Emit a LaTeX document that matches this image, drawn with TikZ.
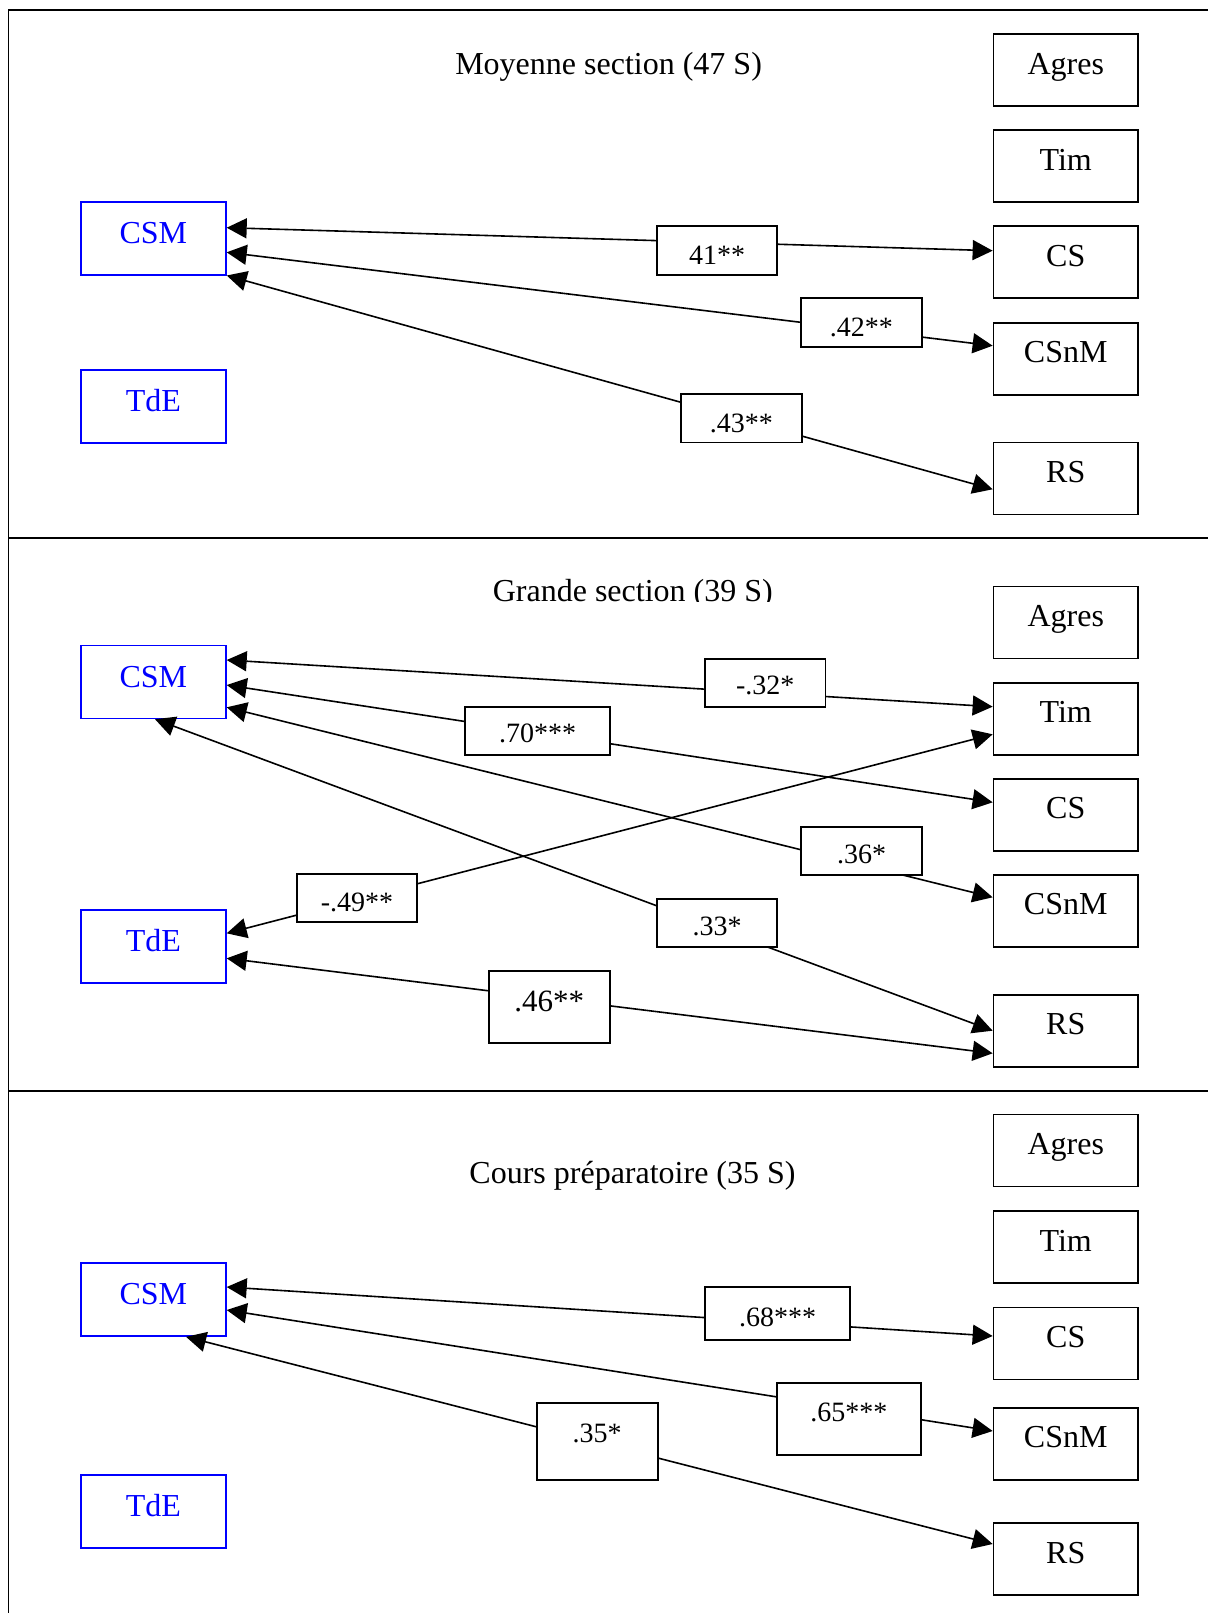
\documentclass[tikz,border=0pt]{standalone}
\usepackage{fontspec}
\setmainfont{Liberation Serif}
\usetikzlibrary{arrows.meta}

% one unit = one pixel of the layout grid, y running downwards
\tikzset{
  layout/.style={x=0.5pt, y=-0.5pt},
  measure/.style={draw=black, line width=0.85pt, rectangle, inner sep=0pt,
    minimum width=72.25pt, minimum height=36pt, text height=4pt, text depth=0pt,
    font=\fontsize{16pt}{19pt}\selectfont},
  latent/.style={draw=blue, text=blue, line width=0.8pt, rectangle, inner sep=0pt,
    minimum width=72.5pt, minimum height=36.5pt, text height=5.1pt, text depth=0pt,
    font=\fontsize{16pt}{19pt}\selectfont},
  % size {width}{height}{baseline below top}, all in layout pixels
  coef/.code n args={3}{%
    \pgfmathsetmacro\cfw{#1*0.5}%
    \pgfmathsetmacro\cfh{#2*0.5}%
    \pgfmathsetmacro\cft{max(0,(2*#3-#2)*0.5)}%
    \edef\cfset{\noexpand\tikzset{minimum width=\cfw pt, minimum height=\cfh pt, text height=\cft pt}}%
    \cfset},
  cbox/.style={draw=black, fill=white, line width=0.85pt, rectangle, inner sep=0pt,
    text depth=0pt, font=\fontsize{14pt}{17pt}\selectfont},
  link/.style={>={Triangle[length=10pt,width=10pt]}, <->, line width=0.8pt},
  title/.style={anchor=base, inner sep=0pt, font=\fontsize{16pt}{19pt}\selectfont},
  frame/.style={line width=0.85pt},
}

\begin{document}
\begin{tikzpicture}[layout]
\useasboundingbox (0,0) rectangle (1208,1613);

% outer frame and the two dividers
\draw[frame] (1215,10) -- (8.5,10) -- (8.5,1620);
\draw[frame] (8.5,538) -- (1215,538);
\draw[frame] (8.5,1091) -- (1215,1091);

% ---------- Moyenne section ----------
\node[title] (tA) at (608.6,74) {Moyenne section (47 S)};
\node[latent] (csmA) at (153.4,238.2) {CSM};
\node[latent] (tdeA) at (153.4,406.5) {TdE};
\node[measure] (agresA) at (1065.75,70) {Agres};
\node[measure] (timA) at (1065.75,166) {Tim};
\node[measure] (csA) at (1065.75,262) {CS};
\node[measure] (csnmA) at (1065.75,358.75) {CSnM};
\node[measure] (rsA) at (1065.75,478.5) {RS};

\draw[link] (csmA.east |- 0,227.7) -- (csA.west |- 0,250.7);
\draw[link] (csmA.east |- 0,252.3) -- (csnmA.west |- 0,345.7);
\draw[link] (csmA.south east) -- (rsA.west |- 0,489.3);

\node[cbox, coef={120.6}{48.7}{38}] (kA1) at (717,250.35) {41**};
\node[cbox, coef={120.7}{48.4}{38.4}] (kA2) at (861.35,322.5) {.42**};
\node[cbox, coef={121.3}{48.3}{38.5}] (kA3) at (741.3,418.2) {.43**};

% ---------- Grande section ----------
\begin{scope}
  \clip (0,545) rectangle (1208,601.5);
  \node[title] (tB) at (632.8,601) {Grande section (39 S)};
\end{scope}
\node[latent] (csmB) at (153.4,681.9) {CSM};
\node[latent] (tdeB) at (153.4,946.4) {TdE};
\node[measure] (agresB) at (1065.75,622.5) {Agres};
\node[measure] (timB) at (1065.75,718.8) {Tim};
\node[measure] (csB) at (1065.75,814.8) {CS};
\node[measure] (csnmB) at (1065.75,910.8) {CSnM};
\node[measure] (rsB) at (1065.75,1030.9) {RS};

\draw[link] (csmB.east |- 0,660) -- (timB.west |- 0,706.7);
\draw[link] (csmB.east |- 0,685) -- (csB.west |- 0,802.3);
\draw[link] (csmB.east |- 0,707.3) -- (csnmB.west |- 0,897.3);
\draw[link] (csmB.south -| 155,0) -- (rsB.west |- 0,1030.7);
\draw[link] (tdeB.east |- 0,933.3) -- (timB.west |- 0,734.3);
\draw[link] (tdeB.east |- 0,958.3) -- (rsB.west |- 0,1053.3);

\node[cbox, coef={120.5}{48}{36.2}] (kB1) at (765.25,682.75) {-.32*};
\node[cbox, coef={144.4}{48}{36}] (kB2) at (537.5,730.7) {.70***};
\node[cbox, coef={120.4}{48}{36.6}] (kB3) at (861.5,850.7) {.36*};
\node[cbox, coef={120.6}{48}{36.7}] (kB4) at (357,898.3) {-.49**};
\node[cbox, coef={120}{48}{36.8}] (kB5) at (717,922.7) {.33*};
\node[cbox, coef={120.7}{72}{40.3}, font=\fontsize{15.5pt}{18pt}\selectfont] (kB6) at (549.35,1006.7) {.46**};

% ---------- Cours préparatoire ----------
\node[title] (tC) at (632.5,1183.3) {Cours préparatoire (35 S)};
\node[latent] (csmC) at (153.4,1299.5) {CSM};
\node[latent] (tdeC) at (153.4,1511.2) {TdE};
\node[measure] (agresC) at (1065.75,1150.5) {Agres};
\node[measure] (timC) at (1065.75,1247) {Tim};
\node[measure] (csC) at (1065.75,1343.4) {CS};
\node[measure] (csnmC) at (1065.75,1443.8) {CSnM};
\node[measure] (rsC) at (1065.75,1559.3) {RS};

\draw[link] (csmC.east |- 0,1287) -- (csC.west |- 0,1336);
\draw[link] (csmC.east |- 0,1310) -- (csnmC.west |- 0,1431);
\draw[link] (csmC.south -| 186,0) -- (rsC.west |- 0,1544);

\node[cbox, coef={145}{52.7}{39.4}] (kC1) at (777.5,1313.65) {.68***};
\node[cbox, coef={144.3}{71.7}{38.4}] (kC2) at (848.85,1419.15) {.65***};
\node[cbox, coef={121}{77.3}{40}] (kC3) at (597.2,1441.35) {.35*};

\end{tikzpicture}
\end{document}
